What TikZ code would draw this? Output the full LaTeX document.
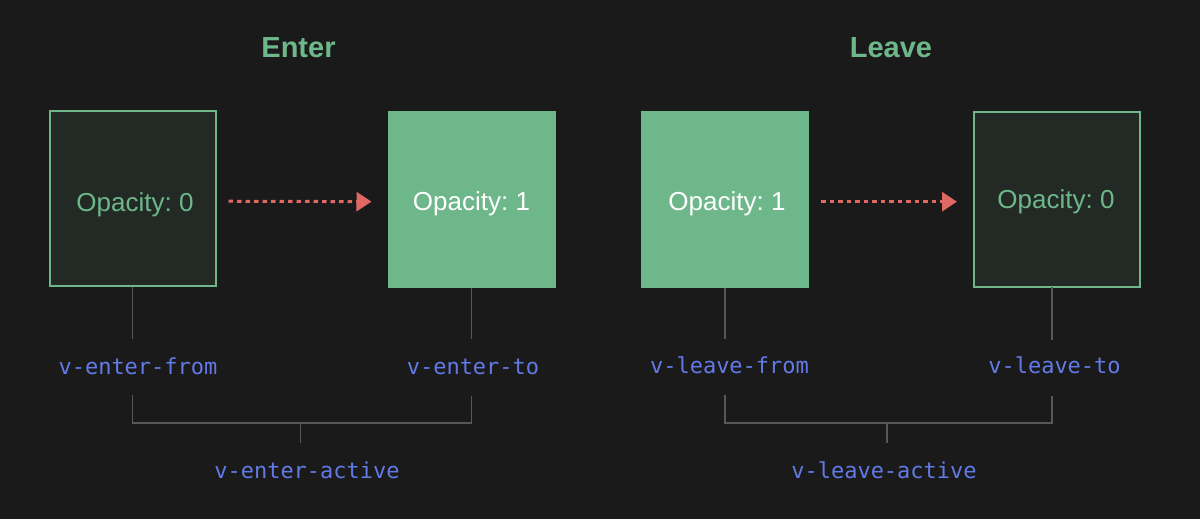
\documentclass[tikz,border=0pt]{standalone}
\usepackage{fontspec}
\setmainfont{Liberation Sans}
\newfontfamily\monofnt{DejaVu Sans Mono}
\usetikzlibrary{arrows.meta}
\frenchspacing
\definecolor{bg}{RGB}{26,26,26}
\definecolor{vgreen}{RGB}{110,183,138}
\definecolor{darkfill}{RGB}{35,42,37}
\definecolor{vblue}{RGB}{98,122,230}
\definecolor{conngray}{RGB}{88,88,88}
\definecolor{vred}{RGB}{224,104,98}
\tikzset{
  darkbox/.style={draw=vgreen, fill=darkfill, line width=2pt, minimum width=166pt, minimum height=175pt, inner sep=0pt},
  greenbox/.style={draw=vgreen, fill=vgreen, line width=2pt, minimum width=166pt, minimum height=175pt, inner sep=0pt},
  optext/.style={anchor=base, inner sep=0pt, font=\fontsize{26}{30}\selectfont},
  title/.style={anchor=base, inner sep=0pt, text=vgreen, font=\fontsize{29}{34}\selectfont\bfseries},
  cls/.style={anchor=base, inner sep=0pt, text=vblue, font=\monofnt\fontsize{22}{26}\selectfont},
  conn/.style={draw=conngray, line width=1.8pt},
  flow/.style={draw=vred, line width=3pt, dash pattern=on 4.5pt off 4pt, -{Triangle[length=15pt,width=19pt]}, shorten <=12pt, shorten >=16pt}
}
\begin{document}
\begin{tikzpicture}[x=1pt,y=-1pt]
\fill[bg] (0,0) rectangle (1200,519);
\useasboundingbox (0,0) rectangle (1200,519);

% titles
\node[title] (tEnter) at (298.5,58) {Enter};
\node[title] (tLeave) at (891,58) {Leave};

% boxes
\node[darkbox] (b1) at (132.5,198.5) {};
\node[greenbox] (b2) at (471.5,199) {};
\node[greenbox] (b3) at (725,199) {};
\node[darkbox] (b4) at (1057,199) {};

\node[optext, text=vgreen] (o1) at (135,211) {Opacity: 0};
\node[optext, text=white] (o2) at (471.5,210.5) {Opacity: 1};
\node[optext, text=white] (o3) at (727,210) {Opacity: 1};
\node[optext, text=vgreen] (o4) at (1056,208) {Opacity: 0};

% arrows
\draw[flow] ([yshift=-2.7pt]b1.east) -- ([yshift=-2.7pt]b2.west);
\draw[flow] ([yshift=-2.7pt]b3.east) -- ([yshift=-2.7pt]b4.west);

% class labels
\node[cls] (l1) at (138,374) {v-enter-from};
\node[cls] (l2) at (473,374) {v-enter-to};
\node[cls] (l3) at (729.5,373.5) {v-leave-from};
\node[cls] (l4) at (1054.5,373.5) {v-leave-to};
\node[cls] (a1) at (307,478) {v-enter-active};
\node[cls] (a2) at (884,478) {v-leave-active};

% connector coordinates
\coordinate (u1) at (132.5,339);
\coordinate (u2) at (471.5,339);
\coordinate (u3) at (725,339);
\coordinate (u4t) at (1052,287);
\coordinate (u4) at (1052,340);

\coordinate (p1) at (132.5,395);
\coordinate (q1) at (132.5,423);
\coordinate (q2) at (471.5,423);
\coordinate (p2) at (471.5,396);
\coordinate (m1) at (300.5,423);
\coordinate (n1) at (300.5,443);

\coordinate (p3) at (725,395);
\coordinate (q3) at (725,423);
\coordinate (q4) at (1052,423);
\coordinate (p4) at (1052,396);
\coordinate (m2) at (887,423);
\coordinate (n2) at (887,443);

% vertical connectors
\draw[conn] (b1.south) -- (u1);
\draw[conn] (b2.south) -- (u2);
\draw[conn] (b3.south) -- (u3);
\draw[conn] (u4t) -- (u4);

% brackets
\draw[conn] (p1) -- (q1) -- (q2) -- (p2);
\draw[conn] (m1) -- (n1);
\draw[conn] (p3) -- (q3) -- (q4) -- (p4);
\draw[conn] (m2) -- (n2);
\end{tikzpicture}
\end{document}
